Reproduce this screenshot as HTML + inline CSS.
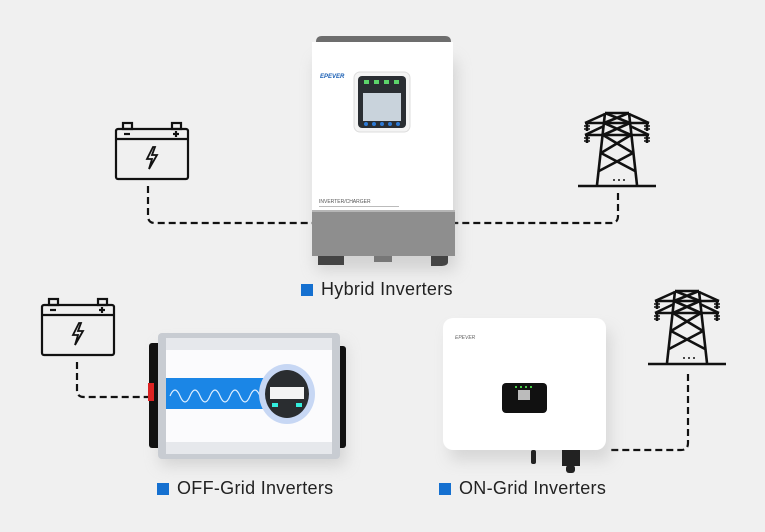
<!DOCTYPE html>
<html><head><meta charset="utf-8"><style>
html,body{margin:0;padding:0;background:#f0f0f0;}
body{width:765px;height:532px;overflow:hidden;position:relative;font-family:"Liberation Sans",sans-serif;}
.lbl{position:absolute;font-size:18px;color:#222;line-height:20px;letter-spacing:0.3px;}
.lbl i{display:inline-block;width:12px;height:12px;background:#1570d0;margin-right:8px;vertical-align:-1px;}
</style></head><body>
<svg width="765" height="532" style="position:absolute;left:0;top:0">
<defs>
<filter id="sh" x="-30%" y="-30%" width="160%" height="160%"><feGaussianBlur stdDeviation="8"/></filter>
<g id="bat" fill="none" stroke="#111" stroke-width="2.2">
<rect x="0" y="6" width="72" height="50" rx="2"/>
<line x1="0" y1="16" x2="72" y2="16"/>
<rect x="7" y="0" width="9" height="6"/><rect x="56" y="0" width="9" height="6"/>
<line x1="8" y1="11" x2="14" y2="11"/><line x1="57" y1="11" x2="63" y2="11"/><line x1="60" y1="8" x2="60" y2="14"/>
<path d="M37 24 L31 36 L36 36 L33 46 L41 32 L36 32 L39 24 Z" stroke-width="1.8"/>
</g>
<g id="tow" fill="none" stroke="#111" stroke-width="2.6">
<line x1="-39" y1="73" x2="39" y2="73"/>
<line x1="-12" y1="0" x2="12" y2="0"/>
<line x1="-12" y1="0" x2="-20" y2="72"/><line x1="12" y1="0" x2="20" y2="72"/>
<path d="M-12 0 L13 10 M12 0 L-13 10 M-13 10 L14 22 M13 10 L-14 22 M-14 22 L16 40 M14 22 L-16 40 M-16 40 L18 58 M16 40 L-18 58"/>
<line x1="-32" y1="10" x2="32" y2="10"/><line x1="-32" y1="10" x2="-12" y2="1"/><line x1="32" y1="10" x2="12" y2="1"/>
<line x1="-32" y1="22" x2="32" y2="22"/><line x1="-32" y1="22" x2="-13" y2="13"/><line x1="32" y1="22" x2="13" y2="13"/>
<line x1="-30" y1="10" x2="-30" y2="18"/><line x1="30" y1="10" x2="30" y2="18"/>
<line x1="-30" y1="22" x2="-30" y2="30"/><line x1="30" y1="22" x2="30" y2="30"/>
<path d="M-33 13h6M-33 16h6M33 13h-6M33 16h-6M-33 25h6M-33 28h6M33 25h-6M33 28h-6" stroke-width="1.6"/>
<path d="M-4 67h2M1 67h2M6 67h2" stroke-width="1.6"/>
</g>
</defs>
<g fill="none" stroke="#111" stroke-width="2.2" stroke-dasharray="7,4">
<path d="M148 186 V216 Q148 223 155 223 H312"/>
<path d="M618 193 V216 Q618 223 611 223 H453"/>
<path d="M77 362 V390 Q77 397 84 397 H148"/>
<path d="M688 374 V443 Q688 450 681 450 H608"/>
</g>
<use href="#bat" x="116" y="123"/>
<use href="#bat" x="42" y="299"/>
<use href="#tow" x="617" y="113"/>
<use href="#tow" x="687" y="291"/>
<rect x="316" y="60" width="140" height="210" fill="#999" opacity=".35" filter="url(#sh)"/>
<path d="M316 42 V52 H451 V42 Q451 36 445 36 H322 Q316 36 316 42Z" fill="#6d6d6d"/>
<rect x="312" y="42" width="141" height="170" fill="#fff"/>
<rect x="312" y="210" width="143" height="46" fill="#8e8e8e"/>
<rect x="312" y="210" width="143" height="2" fill="#b5b5b5"/>
<rect x="318" y="256" width="26" height="9" fill="#444"/>
<rect x="374" y="256" width="18" height="6" fill="#777"/>
<path d="M431 256 H448 V262 Q448 266 440 266 H431Z" fill="#444"/>
<text x="320" y="78" font-size="6" fill="#1a5fb4" font-style="italic" font-weight="bold">EPEVER</text>
<rect x="354" y="72" width="56" height="60" rx="6" fill="#f4f4f4" stroke="#ddd"/>
<rect x="358" y="76" width="48" height="52" rx="4" fill="#2a2e33"/>
<rect x="363" y="93" width="38" height="28" fill="#c9d3dc"/>
<g fill="#5cd36a"><rect x="364" y="80" width="5" height="4"/><rect x="374" y="80" width="5" height="4"/><rect x="384" y="80" width="5" height="4"/><rect x="394" y="80" width="5" height="4"/></g>
<g fill="#2d7ad6"><circle cx="366" cy="124" r="2"/><circle cx="374" cy="124" r="2"/><circle cx="382" cy="124" r="2"/><circle cx="390" cy="124" r="2"/><circle cx="398" cy="124" r="2"/></g>
<text x="319" y="203" font-size="5" fill="#555">INVERTER/CHARGER</text>
<rect x="319" y="206" width="80" height="1" fill="#bbb"/>
<rect x="160" y="345" width="185" height="120" fill="#999" opacity=".35" filter="url(#sh)"/>
<rect x="149" y="343" width="12" height="105" rx="3" fill="#111"/>
<rect x="335" y="346" width="11" height="102" rx="3" fill="#111"/>
<rect x="148" y="383" width="6" height="18" fill="#d22"/>
<rect x="158" y="333" width="182" height="126" rx="4" fill="#c8ccd2"/>
<rect x="166" y="338" width="166" height="116" fill="#fbfbfd"/>
<rect x="166" y="338" width="166" height="12" fill="#e6e8ec"/>
<rect x="166" y="442" width="166" height="12" fill="#e6e8ec"/>
<rect x="166" y="378" width="104" height="31" fill="#1b86e6"/>
<path d="M170 396 q5 -12 10 0 t10 0 t10 0 t10 0 t10 0 t10 0 t10 0 t10 0 t10 0" fill="none" stroke="#dfefff" stroke-width="1.2"/>
<ellipse cx="287" cy="394" rx="28" ry="30" fill="#c7d7f4"/>
<ellipse cx="287" cy="394" rx="22" ry="24" fill="#2a2d30"/>
<rect x="270" y="387" width="34" height="12" fill="#f4f4f4"/>
<rect x="272" y="403" width="6" height="4" fill="#3ed"/><rect x="296" y="403" width="6" height="4" fill="#3ed"/>
<rect x="450" y="330" width="160" height="130" fill="#999" opacity=".3" filter="url(#sh)"/>
<rect x="443" y="318" width="163" height="132" rx="10" fill="#fff"/>
<text x="455" y="339" font-size="5" fill="#666" font-style="italic">EPEVER</text>
<rect x="502" y="383" width="45" height="30" rx="4" fill="#111"/>
<rect x="518" y="390" width="12" height="10" fill="#bbb"/>
<g fill="#4c4"><rect x="515" y="386" width="2" height="2"/><rect x="520" y="386" width="2" height="2"/><rect x="525" y="386" width="2" height="2"/><rect x="530" y="386" width="2" height="2"/></g>
<rect x="531" y="450" width="5" height="14" rx="2" fill="#222"/>
<rect x="562" y="450" width="18" height="16" fill="#222"/>
<rect x="566" y="465" width="9" height="8" rx="3" fill="#222"/>
</svg>
<div class="lbl" style="left:301px;top:279px"><i></i>Hybrid Inverters</div>
<div class="lbl" style="left:157px;top:478px"><i></i>OFF-Grid Inverters</div>
<div class="lbl" style="left:439px;top:478px"><i></i>ON-Grid Inverters</div>
</body></html>
